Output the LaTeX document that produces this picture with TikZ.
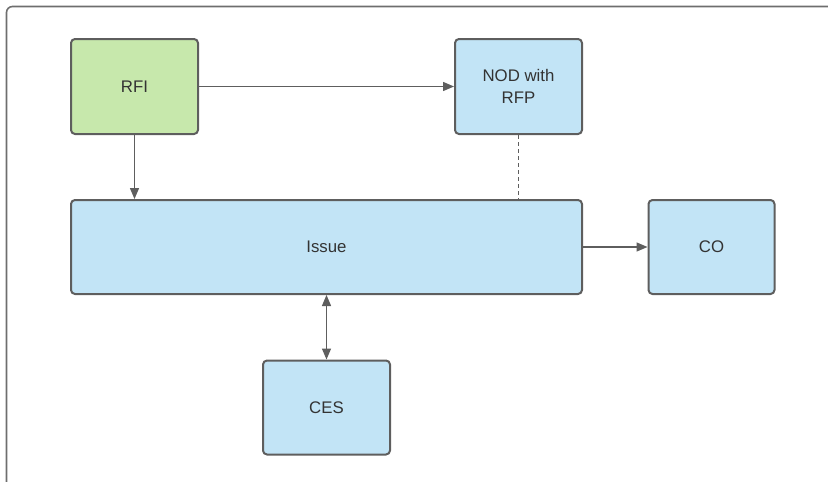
\documentclass[tikz,border=0pt]{standalone}
\usepackage{fontspec}
\setmainfont{Liberation Sans}
\usetikzlibrary{arrows.meta,positioning}

\definecolor{rfigreen}{HTML}{C7E8AC}
\definecolor{boxblue}{HTML}{C2E4F6}
\definecolor{linegray}{HTML}{5E5E5E}
\definecolor{textgray}{HTML}{333333}

\begin{document}
\begin{tikzpicture}[->,>={Triangle[length=11pt,width=9pt]},x=1pt,y=-1pt,node distance=64.5pt,line width=1.3pt,color=linegray]
\tikzstyle{every node}=[font=\fontsize{16.8}{21.5}\selectfont,text=textgray]
\tikzstyle{box}=[draw=linegray,line width=2pt,rounded corners=4pt,fill=boxblue,minimum width=127pt,minimum height=95pt,align=center]
\useasboundingbox (0,0) rectangle (828,482);
% frame
\draw[-,line width=1.6pt,draw=linegray!90,rounded corners=6pt] (6.5,6.5) rectangle (845,500);

\node[box,fill=rfigreen] (RFI) at (134.5,86.5) {RFI};
\node[box][right=255pt of RFI](NOD){NOD with\\RFP};
\node[box,minimum width=511pt,minimum height=94pt] (Issue) at (326.5,247) {Issue};
\node[box,minimum width=126pt,minimum height=94pt][right=of Issue](CO){CO};
\node[box,minimum height=94pt][below=of Issue](CES){CES};

\path (RFI)edge (NOD)
          edge (RFI |- Issue.north)
      (NOD)edge [-,line width=1.4pt,dash pattern=on 4pt off 3pt](NOD |- Issue.north)
      (Issue)edge (CO)
      (CES)edge [<->](CES |- Issue.south);

\end{tikzpicture}
\end{document}
